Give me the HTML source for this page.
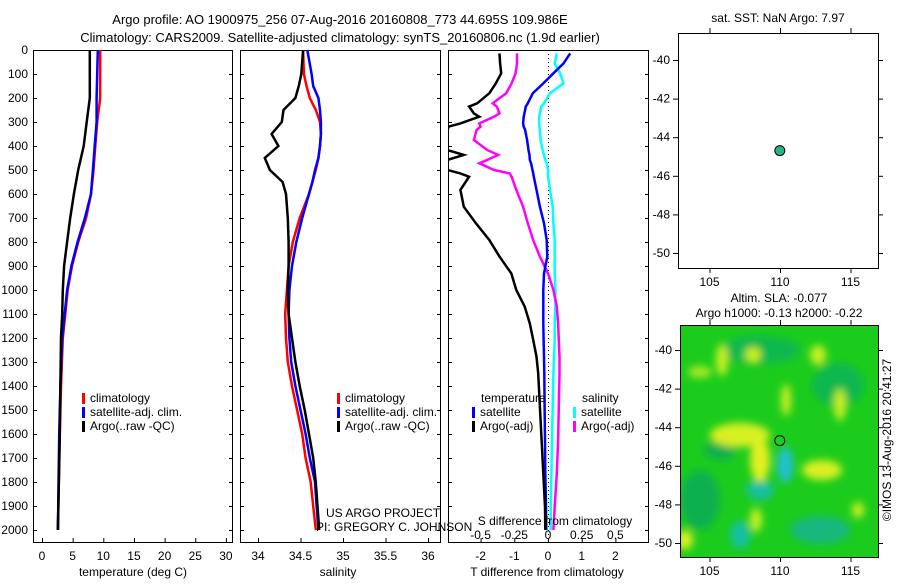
<!DOCTYPE html>
<html><head><meta charset="utf-8"><style>
body{margin:0;background:#fff;}
svg text{font-family:"Liberation Sans",sans-serif;font-size:12px;fill:#000;}
</style></head><body>
<svg id="c" width="900" height="580" xmlns="http://www.w3.org/2000/svg">
<defs><filter id="bl" x="-50%" y="-50%" width="200%" height="200%"><feGaussianBlur stdDeviation="4"/></filter>
<clipPath id="mapclip"><rect x="680" y="325" width="198" height="232"/></clipPath></defs>
<text x="340" y="24" text-anchor="middle" style="font-size:13px">Argo profile: AO 1900975_256 07-Aug-2016 20160808_773 44.695S 109.986E</text>
<text x="340" y="42" text-anchor="middle" style="font-size:13px">Climatology: CARS2009. Satellite-adjusted climatology: synTS_20160806.nc (1.9d earlier)</text>
<g id="heat" clip-path="url(#mapclip)">
<rect x="680" y="325" width="198" height="232" fill="#1ccc1c"/>
<g filter="url(#bl)">
<ellipse cx="720" cy="450" rx="16" ry="10" fill="#10b050"/>
<ellipse cx="760" cy="490" rx="14" ry="10" fill="#18c0a0"/>
<ellipse cx="785" cy="465" rx="8" ry="18" fill="#20c0d0"/>
<ellipse cx="838" cy="385" rx="26" ry="22" fill="#10b850"/>
<ellipse cx="760" cy="350" rx="40" ry="14" fill="#10b850"/>
<ellipse cx="700" cy="500" rx="20" ry="30" fill="#10b050"/>
<ellipse cx="820" cy="530" rx="30" ry="14" fill="#14b880"/>
<ellipse cx="740" cy="535" rx="10" ry="14" fill="#18c0a0"/>
<ellipse cx="740" cy="435" rx="30" ry="12" fill="#d8f020"/>
<ellipse cx="760" cy="460" rx="10" ry="22" fill="#e0f020"/>
<ellipse cx="822" cy="470" rx="20" ry="10" fill="#d8f020"/>
<ellipse cx="753" cy="355" rx="8" ry="8" fill="#c8f020"/>
<ellipse cx="722" cy="360" rx="6" ry="16" fill="#c8f020"/>
<ellipse cx="786" cy="400" rx="5" ry="16" fill="#c8f020"/>
<ellipse cx="840" cy="405" rx="6" ry="16" fill="#c8f020"/>
<ellipse cx="818" cy="355" rx="8" ry="10" fill="#c8f020"/>
<ellipse cx="756" cy="520" rx="6" ry="12" fill="#c8f020"/>
<ellipse cx="858" cy="510" rx="6" ry="8" fill="#c8f020"/>
<ellipse cx="685" cy="540" rx="8" ry="10" fill="#d8f020"/>
<ellipse cx="700" cy="372" rx="12" ry="6" fill="#a8e828"/>
</g></g>
</svg>
<script>
// ---- data ----
const tDepth=[0,100,200,300,400,500,600,700,800,900,1000,1100,1200,1400,1600,2000];
const tClim=[9.5,9.5,9.5,9.0,8.7,8.4,8.0,7.2,5.9,4.9,4.2,3.8,3.4,3.1,2.9,2.6];
const tSat=[9.1,9.0,8.9,8.9,8.6,8.3,8.0,7.0,5.8,4.8,4.1,3.7,3.3,3.0,2.8,2.6];
const tArgo=[7.8,7.8,7.8,7.3,6.8,5.9,5.2,4.6,4.1,3.6,3.4,3.3,3.1,3.0,2.9,2.6];
const sDepth=[0,100,150,200,250,300,350,400,450,500,550,600,700,800,900,1000,1100,1200,1300,1400,1500,1600,1700,1800,1900,2000];
const sClim=[34.53,34.54,34.57,34.61,34.68,34.73,34.74,34.73,34.71,34.68,34.64,34.60,34.49,34.41,34.36,34.34,34.32,34.33,34.35,34.40,34.46,34.52,34.56,34.62,34.65,34.68];
const sSat=[34.58,34.63,34.65,34.71,34.73,34.74,34.74,34.73,34.71,34.67,34.64,34.60,34.52,34.45,34.40,34.37,34.36,34.37,34.39,34.44,34.50,34.56,34.61,34.67,34.69,34.71];
const sArgo=[34.53,34.51,34.48,34.44,34.30,34.28,34.16,34.24,34.08,34.14,34.29,34.33,34.35,34.36,34.36,34.35,34.36,34.40,34.44,34.49,34.55,34.60,34.65,34.68,34.70,34.72];
const dDepth=[14,56,97,139,180,222,236,264,278,306,319,333,375,417,437,458,472,500,514,528,583,653,722,792,861,931,1000,1069,1139,1208,1278,1347,1486,1625,1764,1903,2000];
const dTArgo=[-1.44,-1.42,-1.39,-1.55,-1.74,-2.1,-2.34,-2.2,-2.04,-2.6,-2.95,-2.98,-2.98,-2.98,-2.5,-2.98,-2.98,-2.98,-2.6,-2.34,-2.6,-2.5,-2.14,-1.74,-1.44,-1.09,-0.94,-0.69,-0.54,-0.44,-0.34,-0.29,-0.24,-0.19,-0.14,-0.09,-0.08];
const dTSat=[0.66,0.46,0.16,-0.14,-0.45,-0.6,-0.66,-0.7,-0.72,-0.74,-0.72,-0.68,-0.62,-0.58,-0.55,-0.54,-0.5,-0.46,-0.44,-0.42,-0.34,-0.24,-0.12,-0.04,-0.02,-0.12,-0.14,-0.14,-0.14,-0.13,-0.12,-0.11,-0.1,-0.09,-0.08,-0.06,-0.05];
const dSSat=[0.065,0.05,0.09,0.115,0.015,-0.03,-0.05,-0.06,-0.065,-0.065,-0.063,-0.06,-0.055,-0.04,-0.03,-0.02,-0.01,0.0,0.0,0.0,0.015,0.035,0.04,0.05,0.05,0.05,0.055,0.055,0.05,0.05,0.045,0.04,0.035,0.03,0.025,0.02,0.02];
const dSArgo=[-0.23,-0.23,-0.24,-0.27,-0.31,-0.41,-0.38,-0.36,-0.4,-0.51,-0.5,-0.53,-0.55,-0.45,-0.37,-0.45,-0.51,-0.4,-0.285,-0.27,-0.235,-0.185,-0.15,-0.11,-0.06,0.0,0.04,0.065,0.075,0.08,0.085,0.085,0.08,0.075,0.065,0.05,0.04];
const depthTicks=[0,100,200,300,400,500,600,700,800,900,1000,1100,1200,1300,1400,1500,1600,1700,1800,1900,2000];
const tTicks=[0,5,10,15,20,25,30];
const sTicks=[34,34.5,35,35.5,36];
const dTTicks=[-2,-1,0,1,2];
const dSTicks=[-0.5,-0.25,0,0.25,0.5];
const dSTickLabels=["-0.5","-0.25","0","0.25","0.5"];
const lonTicks=[105,110,115];
const latTicks=[-40,-42,-44,-46,-48,-50];
const argoLon=[109.986], argoLat=[-44.695];

const svg=document.getElementById('c');
const NS='http://www.w3.org/2000/svg';
function mk(tag,attrs,parent){const e=document.createElementNS(NS,tag);for(const k in attrs)e.setAttribute(k,attrs[k]);(parent||svg).appendChild(e);return e;}
function txt(x,y,s,anchor){const t=mk('text',{x:x,y:y,'text-anchor':anchor||'middle'});t.textContent=s;return t;}
const yD=d=>50+d*0.24;
const P1={x0:33,x1:232}, P2={x0:240,x1:440}, P3={x0:448,x1:648};
const xT=v=>42+v*6.13;
const xS=v=>258+(v-34)*85;
const xDT=v=>548+v*33.7;
const xDS=v=>548+v*4*33.7;
const TOP=50,BOT=542;

function frame(P,name){
  const r=mk('rect',{x:P.x0+0.5,y:TOP+0.5,width:P.x1-P.x0,height:BOT-TOP,fill:'none',stroke:'#000'});
  
  
  depthTicks.forEach(d=>{mk('line',{x1:P.x0,x2:P.x0+4,y1:yD(d)+0.5,y2:yD(d)+0.5,stroke:'#000'});mk('line',{x1:P.x1-3,x2:P.x1+1,y1:yD(d)+0.5,y2:yD(d)+0.5,stroke:'#000'});});
}
function line(xs,ys,xf,color,name,w){
  const p=xs.map((v,i)=>xf(v).toFixed(1)+','+yD(ys[i]).toFixed(1)).join(' ');
  const e=mk('polyline',{points:p,fill:'none',stroke:color,'stroke-width':w||2.5});
  
  
}
function xticks(ticks,xf,y,labels){ticks.forEach((t,i)=>{mk('line',{x1:xf(t)+0.5,x2:xf(t)+0.5,y1:BOT,y2:BOT-4,stroke:'#000'});const e=txt(xf(t),y,labels?labels[i]:String(t));});}
function legend(x,y,items,name){items.forEach((it,i)=>{mk('rect',{x:x,y:y+i*14-9,width:3,height:11,fill:it[0]});const e=txt(x+8,y+i*14,it[1],'start');});}

// panel 1
frame(P1,'temperature-panel');
depthTicks.forEach(d=>{const e=txt(28,yD(d)+4,String(d),'end');});
line(tClim,tDepth,xT,'#ff0000','temp-climatology-line');
line(tSat,tDepth,xT,'#0000ff','temp-satellite-line');
line(tArgo,tDepth,xT,'#000000','temp-argo-line');
xticks(tTicks,xT,560);
let e=txt(133,576,'temperature (deg C)');
legend(82,402,[['#ff0000','climatology'],['#0000ff','satellite-adj. clim.'],['#000','Argo(..raw -QC)']],'legend-entry');

// panel 2
frame(P2,'salinity-panel');
line(sClim,sDepth,xS,'#ff0000','sal-climatology-line');
line(sSat,sDepth,xS,'#0000ff','sal-satellite-line');
line(sArgo,sDepth,xS,'#000000','sal-argo-line');
xticks(sTicks,xS,560);
e=txt(338,576,'salinity');
legend(337,402,[['#ff0000','climatology'],['#0000ff','satellite-adj. clim.'],['#000','Argo(..raw -QC)']],'legend-entry');
e=txt(326,517,'US ARGO PROJECT','start');
e=txt(316,531,'PI: GREGORY C. JOHNSON','start');

// panel 3
frame(P3,'difference-panel');
e=mk('line',{x1:548.5,x2:548.5,y1:TOP,y2:BOT,stroke:'#000','stroke-dasharray':'1,3'});

const cp=mk('clipPath',{id:'p3clip'});mk('rect',{x:449,y:51,width:199,height:491},cp);
const g3=mk('g',{'clip-path':'url(#p3clip)'});
function line3(xs,xf,color,name){const p=xs.map((v,i)=>xf(v).toFixed(1)+','+yD(dDepth[i]).toFixed(1)).join(' ');const l=mk('polyline',{points:p,fill:'none',stroke:color,'stroke-width':2.5},g3);}
line3(dSSat,xDS,'#00ffff','sal-diff-satellite-line');
line3(dSArgo,xDS,'#ff00ff','sal-diff-argo-line');
line3(dTSat,xDT,'#0000ff','temp-diff-satellite-line');
line3(dTArgo,xDT,'#000000','temp-diff-argo-line');
xticks(dTTicks,xDT,560);
dSTicks.forEach((t,i)=>{const l=txt(xDS(t),539,dSTickLabels[i]);});
e=txt(555,525,'S difference from climatology');
e=txt(547,576,'T difference from climatology');
e=txt(481,402,'temperature','start');
e=txt(582,402,'salinity','start');
legend(472,416,[['#0000ff','satellite'],['#000','Argo(-adj)']],'legend-entry');
legend(573,416,[['#00ffff','satellite'],['#ff00ff','Argo(-adj)']],'legend-entry');

// maps
const xLon=v=>780+(v-110)*14.1;
function map(y0,y1,x0,latTop,name,ptFill){
  const yLat=v=>latTop+(-40-v)*19.3;
  const r=mk('rect',{x:x0+0.5,y:y0+0.5,width:878-x0,height:y1-y0,fill:'none',stroke:'#000'});
  
  lonTicks.forEach(t=>{mk('line',{x1:xLon(t)+0.5,x2:xLon(t)+0.5,y1:y1,y2:y1+5,stroke:'#000'});mk('line',{x1:xLon(t)+0.5,x2:xLon(t)+0.5,y1:y0,y2:y0-5,stroke:'#000'});const l=txt(xLon(t),y1+18,String(t));});
  latTicks.forEach(t=>{mk('line',{x1:x0-5,x2:x0,y1:yLat(t)+0.5,y2:yLat(t)+0.5,stroke:'#000'});mk('line',{x1:878,x2:883,y1:yLat(t)+0.5,y2:yLat(t)+0.5,stroke:'#000'});const l=txt(x0-8,yLat(t)+4,String(t),'end');});
  const c=mk('circle',{cx:xLon(argoLon[0]),cy:yLat(argoLat[0]),r:5,fill:ptFill,stroke:'#000'});
  
}
map(33,268,678,60,'sst-map','#20b880');
map(325,557,680,350,'sla-map','none');
e=txt(778,22,'sat. SST: NaN Argo: 7.97');
e=txt(779,302,'Altim. SLA: -0.077');
e=txt(779,317,'Argo h1000: -0.13 h2000: -0.22');
e=txt(0,0,'©IMOS 13-Aug-2016 20:41:27');e.setAttribute('transform','translate(891,440) rotate(-90)');

</script>
</body></html>
